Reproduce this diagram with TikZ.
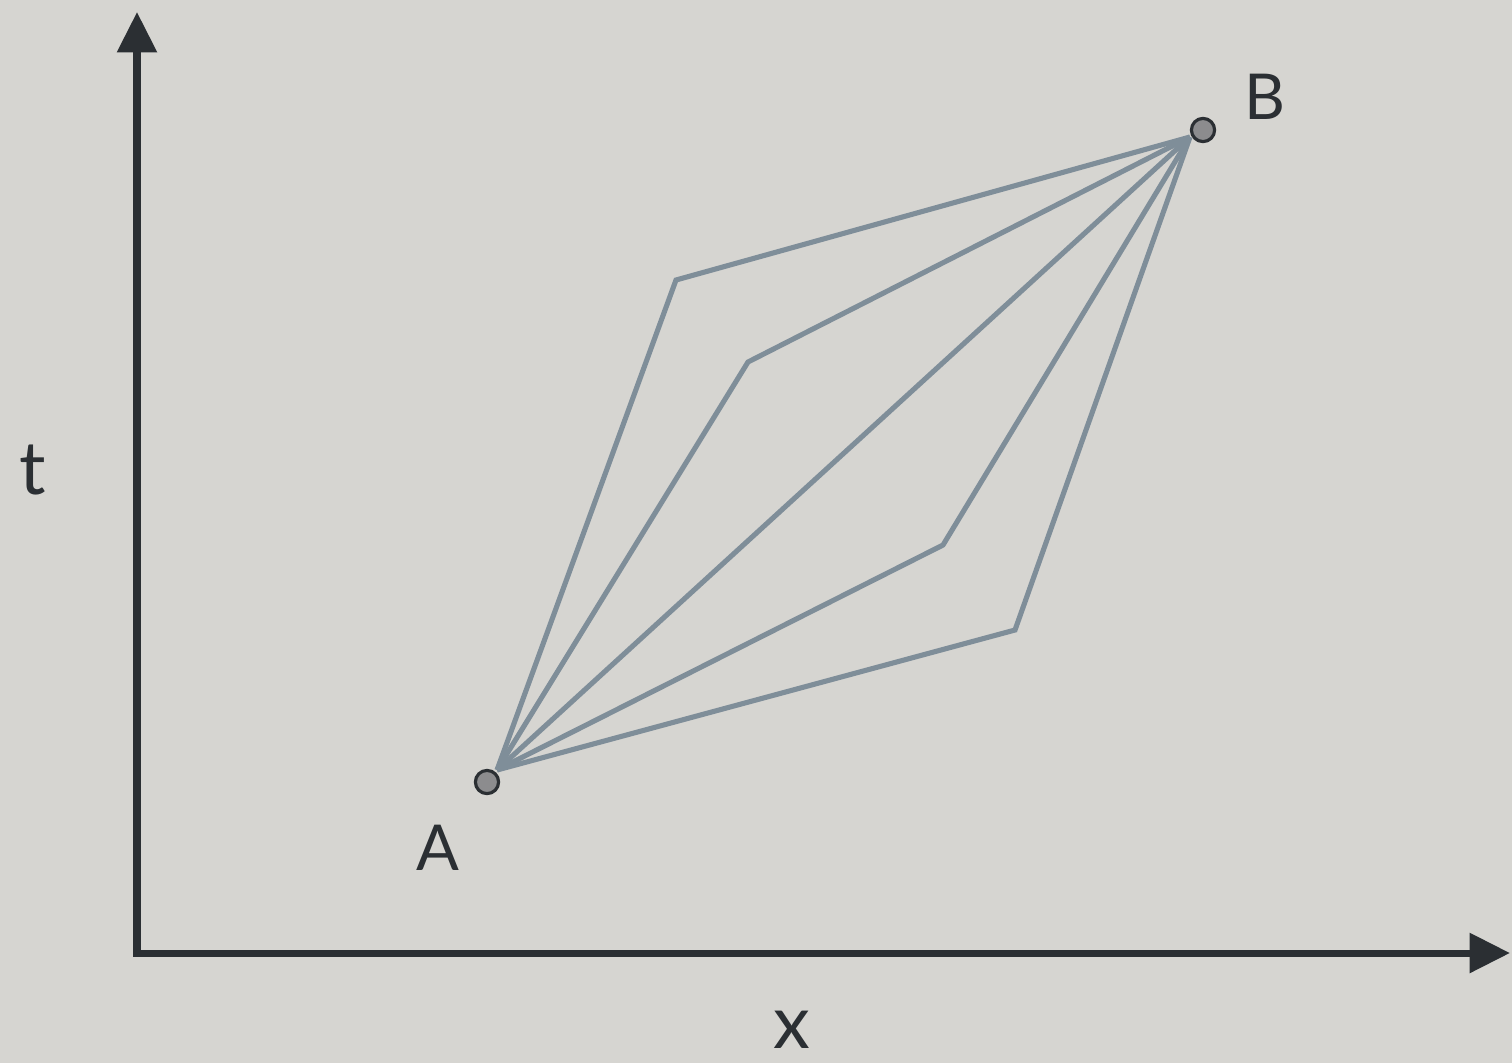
\documentclass[tikz,border=0pt]{standalone}
\usepackage{fontspec}
\setmainfont{Lato}
\usetikzlibrary{arrows.meta}
\definecolor{bg}{HTML}{D6D5D1}
\definecolor{axis}{HTML}{2B2F33}
\definecolor{path}{HTML}{7F8E99}
\definecolor{dotfill}{HTML}{8C8C8E}
\tikzset{
  axisline/.style={draw=axis, line width=2pt, -{Triangle[length=11.5pt,width=11pt]}},
  worldline/.style={draw=path, line width=1.45pt, line join=miter},
  event/.style={circle, draw=axis, fill=dotfill, line width=0.9pt, minimum size=6.6pt, inner sep=0pt},
  lbl/.style={text=axis, inner sep=0pt, font=\fontsize{18}{20}\selectfont}
}
\begin{document}
\begin{tikzpicture}[x=0.01cm,y=-0.01cm]
\fill[bg] (0,0) rectangle (1512,1063);
\useasboundingbox (0,0) rectangle (1512,1063);
\coordinate (Ov) at (137,956.5);
\coordinate (Oh) at (133.5,953);
\coordinate (T) at (137,12);
\coordinate (X) at (1510,953);
\draw[axisline] (Ov) -- (T);
\draw[axisline] (Oh) -- (X);
\coordinate (a) at (497,770);
\coordinate (b) at (1190,137);
\coordinate (p1) at (676,280);
\coordinate (p2) at (748,362);
\coordinate (p4) at (943,545);
\coordinate (p5) at (1015,630);
\draw[worldline] (a) -- (p1) -- (b);
\draw[worldline] (a) -- (p2) -- (b);
\draw[worldline] (a) -- (b);
\draw[worldline] (a) -- (p4) -- (b);
\draw[worldline] (a) -- (p5) -- (b);
\node[event] (A) at (487,782) {};
\node[event] (B) at (1203,130) {};
\node[lbl] (Alab) at (438,848) {A};
\node[lbl] (Blab) at (1265,97) {B};
\node[lbl, font=\fontsize{21}{23}\selectfont] (tlab) at (33,470) {t};
\node[lbl, font=\fontsize{21}{23}\selectfont] (xlab) at (792,1030) {x};
\end{tikzpicture}
\end{document}
